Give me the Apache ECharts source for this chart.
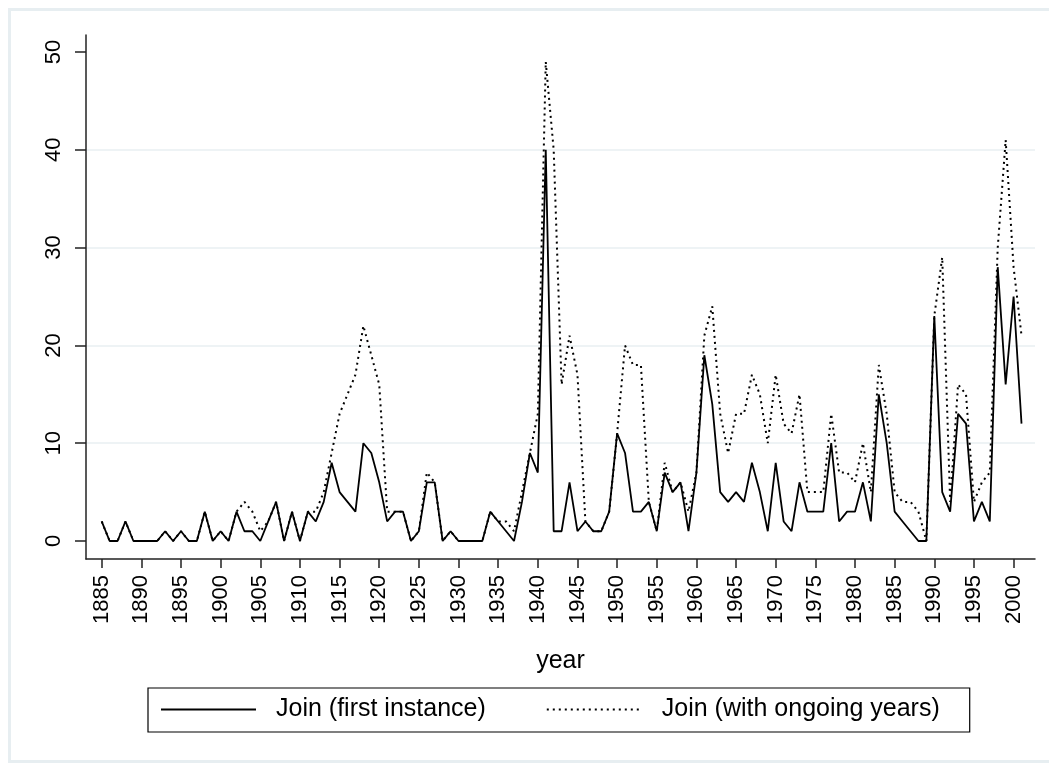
<!DOCTYPE html>
<html>
<head>
<meta charset="utf-8">
<script src="https://cdn.jsdelivr.net/npm/echarts@6/dist/echarts.min.js"></script>
<style>
  html, body { margin: 0; padding: 0; background: #ffffff; }
  #chart { width: 1049px; height: 767px; }
</style>
</head>
<body>
<div id="chart"></div>
<script>
// ---- data ----
const years = [
  1885,1886,1887,1888,1889,1890,1891,1892,1893,1894,
  1895,1896,1897,1898,1899,1900,1901,1902,1903,1904,
  1905,1906,1907,1908,1909,1910,1911,1912,1913,1914,
  1915,1916,1917,1918,1919,1920,1921,1922,1923,1924,
  1925,1926,1927,1928,1929,1930,1931,1932,1933,1934,
  1935,1936,1937,1938,1939,1940,1941,1942,1943,1944,
  1945,1946,1947,1948,1949,1950,1951,1952,1953,1954,
  1955,1956,1957,1958,1959,1960,1961,1962,1963,1964,
  1965,1966,1967,1968,1969,1970,1971,1972,1973,1974,
  1975,1976,1977,1978,1979,1980,1981,1982,1983,1984,
  1985,1986,1987,1988,1989,1990,1991,1992,1993,1994,
  1995,1996,1997,1998,1999,2000,2001
];
const firstInstance = [
  2,0,0,2,0,0,0,0,1,0,
  1,0,0,3,0,1,0,3,1,1,
  0,2,4,0,3,0,3,2,4,8,
  5,4,3,10,9,6,2,3,3,0,
  1,6,6,0,1,0,0,0,0,3,
  2,1,0,4,9,7,40,1,1,6,
  1,2,1,1,3,11,9,3,3,4,
  1,7,5,6,1,7,19,14,5,4,
  5,4,8,5,1,8,2,1,6,3,
  3,3,10,2,3,3,6,2,15,10,
  3,2,1,0,0,23,5,3,13,12,
  2,4,2,28,16,25,12
];
const ongoingYears = [
  2,0,0,2,0,0,0,0,1,0,
  1,0,0,3,0,1,0,3,4,3,
  1,2,4,0,3,0,3,3,5,9,
  13,15,17,22,19,16,3,3,3,0,
  1,7,6,0,1,0,0,0,0,3,
  2,2,1,5,9,13,49,40,16,21,
  17,2,1,1,3,11,20,18,18,4,
  1,8,5,6,3,7,21,24,13,9,
  13,13,17,15,10,17,12,11,15,5,
  5,5,13,7,7,6,10,5,18,13,
  5,4,4,3,0,23,29,4,16,15,
  4,6,7,30,41,28,21
];
const xTickLabels = [1885,1890,1895,1900,1905,1910,1915,1920,1925,1930,1935,1940,1945,1950,1955,1960,1965,1970,1975,1980,1985,1990,1995,2000];
const yTickLabels = [0,10,20,30,40,50];
const seriesNames = ['Join (first instance)', 'Join (with ongoing years)'];

// ---- chart ----
const FONT = "'Liberation Sans', Arial, sans-serif";
const chart = echarts.init(document.getElementById('chart'), null, { renderer: 'canvas' });

const option = {
  animation: false,
  backgroundColor: '#ffffff',
  graphic: [{
    type: 'rect',
    left: 7, top: 7,
    shape: { width: 1050, height: 752 },
    style: { fill: 'none', stroke: '#e7eef1', lineWidth: 3 },
    silent: true, z: -10
  }],
  grid: { left: 86, right: 14, top: 35, bottom: 208, containLabel: false },
  legend: {
    left: 148, top: 688,
    orient: 'horizontal',
    data: seriesNames,
    itemWidth: 95, itemHeight: 14, itemGap: 60,
    padding: [9, 30, 10, 12],
    borderColor: '#000', borderWidth: 1.2, borderRadius: 0,
    backgroundColor: '#fff',
    itemStyle: { color: 'rgba(0,0,0,0)', borderWidth: 0, opacity: 0 },
    textStyle: { fontSize: 25, color: '#000', fontFamily: FONT, padding: [0, 0, 0, 15] }
  },
  xAxis: {
    type: 'value',
    min: 1883.02, max: 2002.7,
    name: 'year', nameLocation: 'middle', nameGap: 90,
    nameTextStyle: { fontSize: 25, color: '#000', fontFamily: FONT },
    axisLine: { show: true, onZero: false, lineStyle: { color: '#222', width: 1.5 } },
    axisTick: { show: true, length: 9, customValues: xTickLabels, lineStyle: { color: '#222', width: 1.5 } },
    axisLabel: {
      customValues: xTickLabels, rotate: 90, margin: 16, fontSize: 22, color: '#000', fontFamily: FONT,
      formatter: (v) => String(v)
    },
    splitLine: { show: false }
  },
  yAxis: {
    type: 'value',
    min: -1.84, max: 51.74, interval: 10,
    axisLine: { show: true, lineStyle: { color: '#222', width: 1.5 } },
    axisTick: { show: true, length: 11, customValues: yTickLabels, lineStyle: { color: '#222', width: 1.5 } },
    axisLabel: {
      customValues: yTickLabels, rotate: 90, margin: 21, fontSize: 22, color: '#000', fontFamily: FONT,
      formatter: (v) => String(v)
    },
    splitLine: { show: true, showMinLine: false, showMaxLine: false, lineStyle: { color: '#e8eff2', width: 1.5 } }
  },
  series: [
    {
      type: 'line', name: seriesNames[1],
      data: years.map((y, i) => [y, ongoingYears[i]]),
      symbol: 'none', showSymbol: false,
      lineStyle: { color: '#000', width: 2, type: [2, 4] },
      itemStyle: { color: '#000' },
      z: 2
    },
    {
      type: 'line', name: seriesNames[0],
      data: years.map((y, i) => [y, firstInstance[i]]),
      symbol: 'none', showSymbol: false,
      lineStyle: { color: '#000', width: 1.8 },
      itemStyle: { color: '#000' },
      z: 3
    }
  ]
};
chart.setOption(option);
</script>
</body>
</html>
